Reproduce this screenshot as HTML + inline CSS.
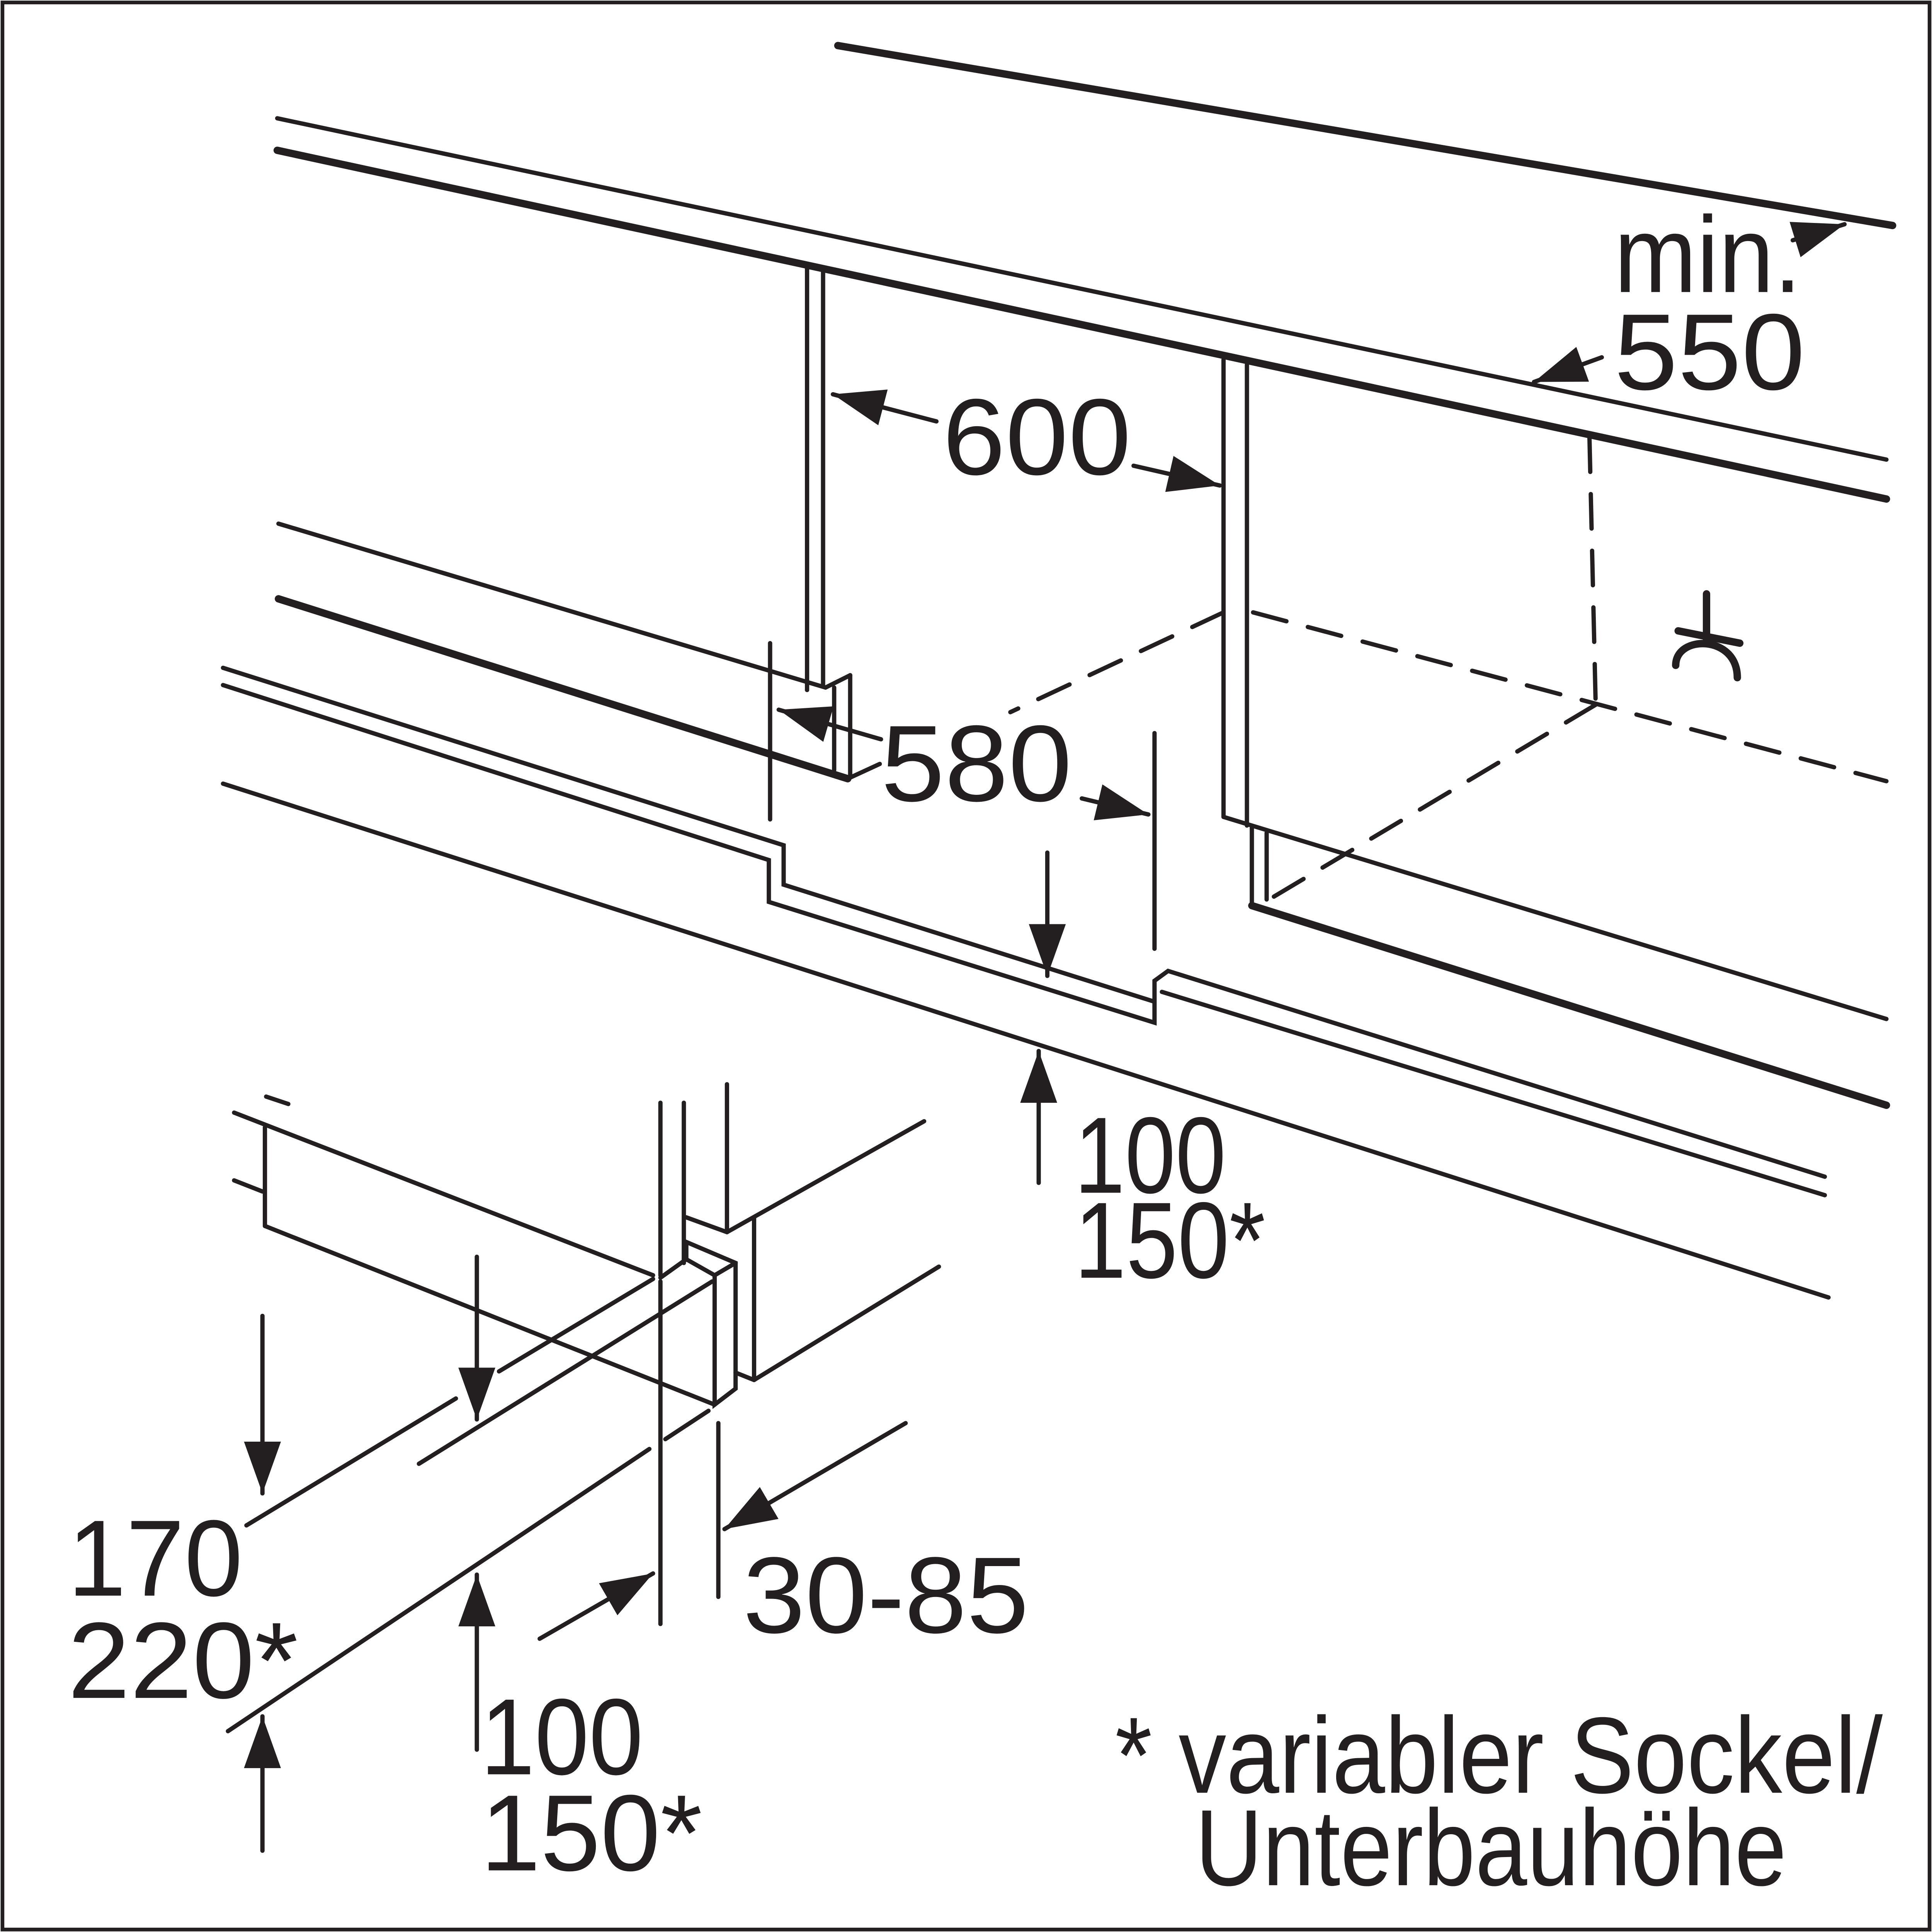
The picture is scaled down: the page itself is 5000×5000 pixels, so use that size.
<!DOCTYPE html>
<html><head><meta charset="utf-8"><style>
html,body{margin:0;padding:0;background:#fff}
svg{display:block}
text{font-family:"Liberation Sans",sans-serif;font-size:88px;fill:#231f20}
</style></head><body>
<svg width="5000" height="5000" viewBox="0 0 1568 1568" xmlns="http://www.w3.org/2000/svg">
<defs>
<marker id="a" markerUnits="userSpaceOnUse" markerWidth="44" markerHeight="30" refX="42" refY="15" orient="auto">
<path d="M0,0 L42,15 L0,30 Z" fill="#231f20"/>
</marker>
</defs>
<rect x="2" y="2" width="1564" height="1564" fill="#fff" stroke="#231f20" stroke-width="3"/>
<g stroke="#231f20" fill="none" stroke-linecap="round" stroke-width="3.5">
<line x1="680" y1="37" x2="1536" y2="183" stroke-width="6"/>
<line x1="225" y1="96" x2="1531" y2="373"/>
<line x1="225" y1="122" x2="1531" y2="405" stroke-width="6"/>
<line x1="655" y1="215" x2="655" y2="560"/>
<line x1="668" y1="218" x2="668" y2="556"/>
<line x1="993" y1="292" x2="993" y2="663"/>
<line x1="1012" y1="296" x2="1012" y2="670"/>
<line x1="993" y1="663" x2="1531" y2="827"/>
<line x1="1016" y1="735" x2="1531" y2="897" stroke-width="6"/>
<line x1="1016" y1="672" x2="1016" y2="735"/>
<line x1="1028" y1="676" x2="1028" y2="730"/>
<line x1="226" y1="425" x2="670" y2="558"/>
<line x1="226" y1="486" x2="688" y2="632" stroke-width="6"/>
<line x1="670" y1="558" x2="690" y2="548"/>
<line x1="690" y1="548" x2="690" y2="630"/>
<line x1="677" y1="558" x2="677" y2="625"/>
<line x1="688" y1="632" x2="714" y2="620"/>
<line x1="760" y1="342" x2="676" y2="320" marker-end="url(#a)"/>
<line x1="920" y1="378" x2="990" y2="394" marker-end="url(#a)"/>
<line x1="625" y1="522" x2="625" y2="665"/>
<line x1="715" y1="600" x2="632" y2="576" marker-end="url(#a)"/>
<line x1="878" y1="648" x2="932" y2="661" marker-end="url(#a)"/>
<line x1="937" y1="595" x2="937" y2="770"/>
<g stroke-dasharray="28,18">
<line x1="993" y1="497" x2="820" y2="578"/>
<line x1="1017" y1="497" x2="1531" y2="634"/>
<line x1="1290" y1="355" x2="1295" y2="570"/>
<line x1="1295" y1="572" x2="1030" y2="730"/>
</g>
<polyline points="181,542 636,686 636,718 937,813"/>
<polyline points="181,556 624,698 624,732 937,830 937,796 948,788 1481,955"/>
<line x1="943" y1="805" x2="1481" y2="970"/>
<line x1="181" y1="636" x2="1484" y2="1053"/>
<line x1="850" y1="692" x2="850" y2="792" marker-end="url(#a)"/>
<line x1="843" y1="960" x2="843" y2="853" marker-end="url(#a)"/>
<line x1="1455" y1="195" x2="1497" y2="182" marker-end="url(#a)"/>
<line x1="1300" y1="290" x2="1245" y2="310" marker-end="url(#a)"/>
<line x1="1385" y1="482" x2="1385" y2="520" stroke-width="6"/>
<line x1="1362" y1="512" x2="1412" y2="522" stroke-width="6"/>
<path d="M1360,540 C1360,515 1410,515 1410,550" stroke-width="6"/>
<line x1="190" y1="903" x2="530" y2="1035"/>
<line x1="215" y1="915" x2="215" y2="995"/>
<line x1="215" y1="995" x2="580" y2="1140"/>
<line x1="190" y1="958" x2="213" y2="967"/>
<line x1="216" y1="890" x2="234" y2="896"/>
<line x1="536" y1="895" x2="536" y2="1035"/>
<line x1="555" y1="895" x2="555" y2="1025"/>
<line x1="590" y1="880" x2="590" y2="1000"/>
<line x1="590" y1="1000" x2="750" y2="910"/>
<line x1="557" y1="988" x2="590" y2="1000"/>
<polyline points="536,1037 557,1022 557,1008 597,1025 597,1127 580,1140 580,1035 557,1022"/>
<line x1="580" y1="1035" x2="597" y2="1025"/>
<line x1="612" y1="988" x2="612" y2="1120"/>
<line x1="612" y1="1120" x2="762" y2="1028"/>
<line x1="597" y1="1114" x2="612" y2="1120"/>
<line x1="405" y1="1113" x2="530" y2="1038"/>
<line x1="340" y1="1188" x2="578" y2="1040"/>
<line x1="200" y1="1238" x2="370" y2="1135"/>
<line x1="185" y1="1405" x2="527" y2="1176"/>
<line x1="536" y1="1040" x2="536" y2="1318"/>
<line x1="583" y1="1155" x2="583" y2="1296"/>
<line x1="540" y1="1168" x2="575" y2="1145"/>
<line x1="387" y1="1020" x2="387" y2="1152" marker-end="url(#a)"/>
<line x1="213" y1="1068" x2="213" y2="1212" marker-end="url(#a)"/>
<line x1="387" y1="1420" x2="387" y2="1278" marker-end="url(#a)"/>
<line x1="213" y1="1502" x2="213" y2="1393" marker-end="url(#a)"/>
<line x1="438" y1="1330" x2="530" y2="1277" marker-end="url(#a)"/>
<line x1="735" y1="1155" x2="588" y2="1241" marker-end="url(#a)"/>
</g>
<text x="765" y="385" textLength="153" lengthAdjust="spacingAndGlyphs">600</text>
<text x="715" y="650" textLength="155" lengthAdjust="spacingAndGlyphs">580</text>
<text x="1310" y="237" textLength="152" lengthAdjust="spacingAndGlyphs">min.</text>
<text x="1310" y="316" textLength="155" lengthAdjust="spacingAndGlyphs">550</text>
<text x="872" y="968" textLength="123" lengthAdjust="spacingAndGlyphs">100</text>
<text x="872" y="1037" textLength="155" lengthAdjust="spacingAndGlyphs">150*</text>
<text x="55" y="1295" textLength="142" lengthAdjust="spacingAndGlyphs">170</text>
<text x="55" y="1378" textLength="187" lengthAdjust="spacingAndGlyphs">220*</text>
<text x="390" y="1440" textLength="132" lengthAdjust="spacingAndGlyphs">100</text>
<text x="390" y="1518" textLength="180" lengthAdjust="spacingAndGlyphs">150*</text>
<text x="603" y="1325" textLength="232" lengthAdjust="spacingAndGlyphs">30-85</text>
<text x="905" y="1455" font-size="84" textLength="623" lengthAdjust="spacingAndGlyphs">* variabler Sockel/</text>
<text x="970" y="1530" font-size="84" textLength="480" lengthAdjust="spacingAndGlyphs">Unterbauhöhe</text>
</svg>
</body></html>
